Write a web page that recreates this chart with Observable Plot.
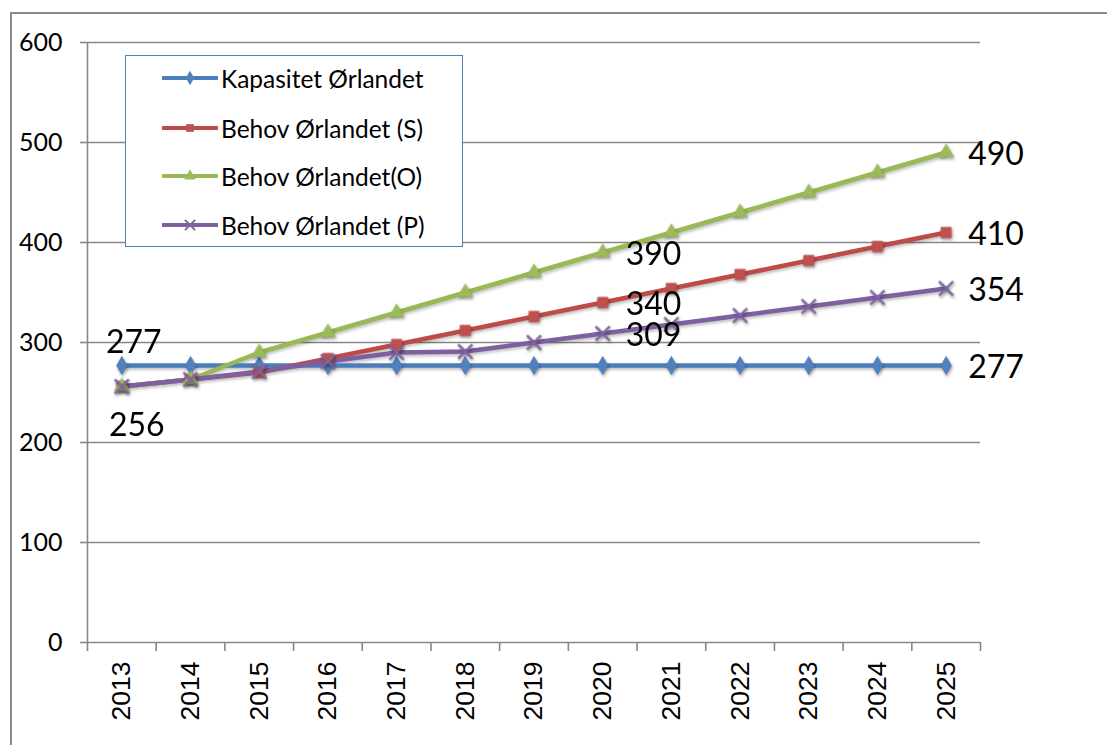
<!DOCTYPE html>
<html><head><meta charset="utf-8">
<script src="https://cdn.jsdelivr.net/npm/d3@7"></script>
<script src="https://cdn.jsdelivr.net/npm/@observablehq/plot@0.6"></script>
<style>
body{margin:0;background:#fff;}
#wrap{position:relative;width:1107px;height:745px;overflow:hidden;background:#fff;}
#frame{position:absolute;left:10px;top:12px;right:-5px;bottom:-5px;border-left:2px solid #8a8a8a;border-top:2px solid #8a8a8a;}
#chart{position:absolute;left:0;top:0;}
#legend{position:absolute;left:125px;top:55px;width:336px;height:190px;border:1.5px solid #4f81bd;background:#fff;font-family:Lato,sans-serif;font-size:24.5px;color:#000;}
.row{position:absolute;left:36px;height:30px;display:flex;align-items:center;white-space:nowrap;}
.row svg{margin-right:3px;}
</style>
</head><body>
<div id="wrap"><div id="frame"></div><div id="chart"></div><div id="legend"></div></div>
<script>
const years = [2013,2014,2015,2016,2017,2018,2019,2020,2021,2022,2023,2024,2025];
const seriesNames = ["Kapasitet Ørlandet","Behov Ørlandet (S)","Behov Ørlandet(O)","Behov Ørlandet (P)"];
const kapasitet = [277,277,277,277,277,277,277,277,277,277,277,277,277];
const behovS = [256,263,270,284,298,312,326,340,354,368,382,396,410];
const behovO = [256,263,290,310,330,350,370,390,410,430,450,470,490];
const behovP = [256,263,271,281,290,291,300,309,318,327,336,345,354];
const yTicks = [0,100,200,300,400,500,600];

const lineColors = ["#4A7EBB","#BE4B48","#98B954","#7D60A0"];
const markColors = ["#4F81BD","#C0504D","#9BBB59","#8064A2"];
const symbols = ["diamond","square","triangle","times"];
const allValues = [kapasitet, behovS, behovO, behovP];

const data = seriesNames.flatMap((s,i)=>allValues[i].map((v,j)=>({series:s, idx:i, year:years[j], value:v})));
const boundaries = [...years.map(y=>y-0.5), years[years.length-1]+0.5];
const grid = "#878787";

const dotMarks = seriesNames.map((s,i)=>{
  const sub = data.filter(d=>d.series===s);
  return symbols[i]==="times"
    ? Plot.dot(sub,{x:"year",y:"value",symbol:()=>"times",r:6.5,stroke:markColors[i],strokeWidth:2.4,fill:"none"})
    : Plot.dot(sub,{x:"year",y:"value",symbol:()=>symbols[i],r:symbols[i]==="square"?5.8:5.5,fill:markColors[i],stroke:markColors[i],strokeWidth:0.8});
});

const endLabels = data.filter(d=>d.year===2025);
const midLabels = data.filter(d=>d.year===2020 && d.idx>0);
const capStart = data.filter(d=>d.year===2013 && d.idx===0);
const needStart = data.filter(d=>d.year===2013 && d.idx===1);
const lab = {x:"year",y:"value",text:d=>String(d.value),fontSize:32,fontFamily:"Lato",fill:"#000"};

const chart = Plot.plot({
  width:1107, height:745,
  marginLeft:87, marginRight:127, marginTop:42, marginBottom:103,
  x:{domain:[2012.5,2025.5]},
  y:{domain:[0,600]},
  style:{background:"transparent",fontFamily:"Lato",overflow:"visible"},
  marks:[
    Plot.gridY(yTicks.filter(t=>t>0),{stroke:grid,strokeOpacity:1,strokeWidth:1.6}),
    Plot.ruleY([0],{stroke:grid,strokeWidth:1.6}),
    Plot.ruleX([2012.5],{stroke:grid,strokeWidth:1.6}),
    Plot.axisY(yTicks,{tickSize:7,tickPadding:18,stroke:grid,strokeWidth:1.6,fill:"#000",fontSize:25,fontFamily:"Lato",label:null}),
    Plot.axisX(boundaries,{tickSize:9,tickFormat:()=>"",stroke:grid,strokeWidth:1.6,label:null}),
    Plot.axisX(years,{tickSize:0,tickRotate:-90,tickPadding:19,tickFormat:d=>String(d),fontSize:26.5,fontFamily:"Liberation Sans",fill:"#000",label:null}),
    Plot.line(data,{x:"year",y:"value",z:"series",stroke:d=>lineColors[d.idx],strokeWidth:4.5}),
    ...dotMarks,
    Plot.text(endLabels,{...lab,textAnchor:"start",dx:22,dy:2}),
    Plot.text(midLabels,{...lab,textAnchor:"start",dx:23,dy:2}),
    Plot.text(capStart,{...lab,textAnchor:"middle",dx:12,dy:-23}),
    Plot.text(needStart,{...lab,textAnchor:"middle",dx:15,dy:39})
  ]
});
d3.select(chart).selectAll('g[aria-label="dot"]').style("filter","drop-shadow(1px 2px 1.5px rgba(0,0,0,0.35))");
d3.select(chart).selectAll('g[aria-label="line"]').style("filter","drop-shadow(1px 2px 1.5px rgba(0,0,0,0.25))");
document.getElementById("chart").appendChild(chart);

// legend
const legend = d3.select("#legend");
const rowCenters = [22,72,120,169];
const d3sym = {diamond:d3.symbolDiamond, square:d3.symbolSquare, triangle:d3.symbolTriangle, times:(d3.symbolTimes||d3.symbolX)};
seriesNames.forEach((s,i)=>{
  const row = legend.append("div").attr("class","row").style("top",(rowCenters[i]-15)+"px");
  const svg = row.append("svg").attr("width",56).attr("height",20);
  svg.append("line").attr("x1",1).attr("x2",55).attr("y1",10).attr("y2",10).attr("stroke",lineColors[i]).attr("stroke-width",4).attr("stroke-linecap","round");
  const p = svg.append("path").attr("transform","translate(28,10)")
    .attr("d",d3.symbol(d3sym[symbols[i]], symbols[i]==="times"?70:60)());
  if(symbols[i]==="times") p.attr("fill","none").attr("stroke",markColors[i]).attr("stroke-width",2);
  else p.attr("fill",markColors[i]);
  row.append("span").text(s);
});
</script>
</body></html>
